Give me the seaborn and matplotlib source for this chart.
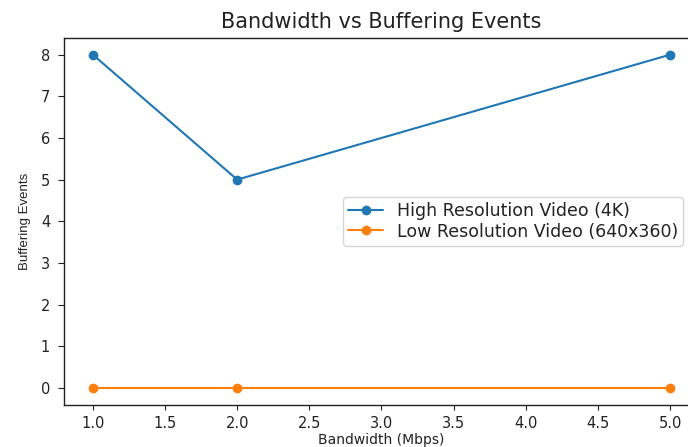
import pandas as pd
import matplotlib
matplotlib.use("Agg")
import matplotlib.pyplot as plt
import seaborn as sns

# Datos del grafico
bandwidth = [1.0, 2.0, 5.0]
high_res_events = [8, 5, 8]
low_res_events = [0, 0, 0]
series_names = ["High Resolution Video (4K)", "Low Resolution Video (640x360)"]
yticks = [0, 1, 2, 3, 4, 5, 6, 7, 8]

datos = pd.DataFrame({
    "Bandwidth": bandwidth * 2,
    "Events": high_res_events + low_res_events,
    "Serie": [series_names[0]] * len(bandwidth) + [series_names[1]] * len(bandwidth),
})

sns.set_theme(style="ticks", rc={
    "xtick.major.size": 3.5, "ytick.major.size": 4,
    "xtick.major.pad": 5, "ytick.major.pad": 6,
    "xtick.major.width": 0.8, "ytick.major.width": 0.8,
    "axes.linewidth": 1.0, "axes.edgecolor": "#222222",
    "text.color": "#222222", "axes.labelcolor": "#222222",
    "xtick.color": "#222222", "ytick.color": "#222222",
})
plt.rcParams["font.family"] = ["DejaVu Sans"]

fig, ax = plt.subplots(figsize=(6.88, 4.47), dpi=100)
sns.lineplot(data=datos, x="Bandwidth", y="Events", hue="Serie",
             palette=["#1f77b4", "#ff7f0e"], marker="o", markersize=7,
             markeredgewidth=0, linewidth=1.5, ax=ax)

ax.set_title("Bandwidth vs Buffering Events", fontsize=15, pad=7)
ax.set_xlabel("Bandwidth (Mbps)", fontsize=10, labelpad=1)
ax.set_ylabel("Buffering Events", fontsize=9.5, labelpad=7,
              family=["Liberation Sans Narrow", "Liberation Sans"])
ax.set_yticks(yticks)
ax.tick_params(labelsize=10.5)
ax.legend(title=None, loc="center right", fontsize=12.5, frameon=True,
          handlelength=2.0, borderpad=0.3, labelspacing=0.15,
          borderaxespad=0.9)

fig.subplots_adjust(left=0.093, right=1.016, top=0.915, bottom=0.095)
fig.savefig("out.png", dpi=100)
